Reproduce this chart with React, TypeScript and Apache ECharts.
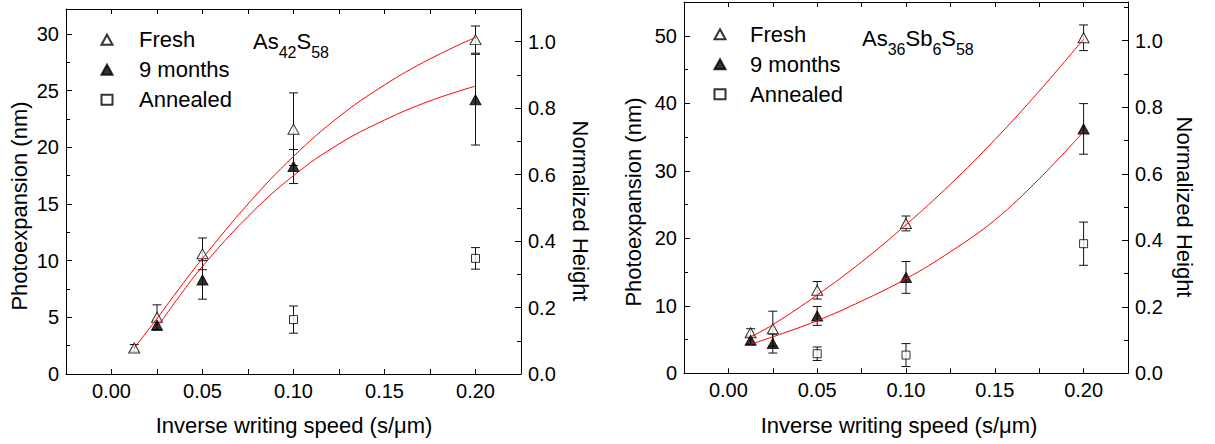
import React, { useEffect, useRef } from 'react';
import * as echarts from 'echarts';

const FONT = '"Liberation Sans", Arial, Helvetica, sans-serif';

// ---------- Left panel: As42S58 ----------
const leftFreshX = [0.0125, 0.025, 0.05, 0.1, 0.2];
const leftFresh = [2.3, 5.0, 10.6, 21.6, 29.5];
const leftFreshErr = [0.3, 1.1, 1.4, 3.2, 1.2];
const leftMonthsX = [0.025, 0.05, 0.1, 0.2];
const leftMonths = [4.3, 8.3, 18.3, 24.2];
const leftMonthsErr = [0.4, 1.7, 1.5, 4.0];
const leftAnnealedX = [0.1, 0.2];
const leftAnnealed = [4.8, 10.2];
const leftAnnealedErr = [1.2, 0.95];
const leftFreshFitX = [0.0125, 0.025, 0.0375, 0.05, 0.075, 0.1, 0.125, 0.15, 0.175, 0.2];
const leftFreshFit = [2.3, 4.9, 7.6, 10.2, 15.0, 19.2, 22.7, 25.5, 27.8, 29.7];
const leftMonthsFitX = [0.025, 0.0375, 0.05, 0.075, 0.1, 0.125, 0.15, 0.175, 0.2];
const leftMonthsFit = [4.1, 6.9, 9.5, 13.9, 17.5, 20.3, 22.4, 24.1, 25.4];

// ---------- Right panel: As36Sb6S58 ----------
const rightFreshX = [0.0125, 0.025, 0.05, 0.1, 0.2];
const rightFresh = [6.0, 6.6, 12.3, 22.2, 49.7];
const rightFreshErr = [0.6, 2.6, 1.3, 1.1, 1.9];
const rightMonthsX = [0.0125, 0.025, 0.05, 0.1, 0.2];
const rightMonths = [4.9, 4.4, 8.5, 14.2, 36.2];
const rightMonthsErr = [0.6, 1.4, 1.4, 2.35, 3.75];
const rightAnnealedX = [0.05, 0.1, 0.2];
const rightAnnealed = [2.9, 2.7, 19.2];
const rightAnnealedErr = [1.0, 1.7, 3.2];
const rightFitX = [0.0125, 0.025, 0.05, 0.075, 0.1, 0.125, 0.15, 0.175, 0.2];
const rightFreshFit = [5.4, 7.2, 11.6, 16.5, 22.0, 28.0, 34.6, 41.8, 49.5];
const rightMonthsFit = [4.3, 5.4, 7.8, 10.7, 14.0, 18.0, 22.7, 28.8, 35.8];

// ---------- Axes ----------
const xTickLabels = ['0.00', '0.05', '0.10', '0.15', '0.20'];
const leftYMax = 32.2;
const leftNormMax = 1.098;
const rightYMax = 55;
const rightNormMax = 1.1165;

const pairs = (xs: number[], ys: number[]) => xs.map((x, i) => [x, ys[i]]);
const bars = (xs: number[], ys: number[], es: number[]) =>
  xs.map((x, i) => [x, ys[i] - es[i], ys[i] + es[i]]);

const tickLine = { lineStyle: { color: '#000', width: 1 } };

function xAxisDef(gridIndex: number, position: 'top' | 'bottom') {
  return {
    type: 'value',
    gridIndex,
    position,
    min: -0.025,
    max: 0.225,
    interval: 0.025,
    axisLine: { show: true, onZero: false, ...tickLine },
    axisTick: { show: true, inside: true, length: 5, ...tickLine },
    splitLine: { show: false },
    axisLabel: {
      show: position === 'bottom',
      color: '#000',
      fontSize: 20,
      fontFamily: FONT,
      margin: 7,
      formatter: (v: number) => {
        const k = Math.round(v / 0.025);
        if (k < 0 || k % 2 !== 0 || k / 2 >= xTickLabels.length) return '';
        return xTickLabels[k / 2];
      },
    },
  };
}

function yAxisDef(gridIndex: number, position: 'left' | 'right', max: number, interval: number, decimals: number) {
  return {
    type: 'value',
    gridIndex,
    position,
    min: 0,
    max,
    interval,
    axisLine: { show: true, onZero: false, ...tickLine },
    axisTick: { show: true, inside: true, length: 6, ...tickLine },
    minorTick: { show: true, splitNumber: 2, length: 4, ...tickLine },
    splitLine: { show: false },
    minorSplitLine: { show: false },
    axisLabel: {
      color: '#000',
      fontSize: 20,
      fontFamily: FONT,
      margin: 7,
      formatter: (v: number) => {
        const k = Math.round(v / interval);
        if (Math.abs(k * interval - v) > interval * 1e-3) return '';
        return (k * interval).toFixed(decimals);
      },
    },
  };
}

const errorRender = (params: any, api: any) => {
  const x = api.value(0);
  const top = api.coord([x, api.value(2)]);
  const bot = api.coord([x, api.value(1)]);
  const w = 4.5;
  const style = { stroke: '#111', lineWidth: 1 };
  return {
    type: 'group',
    children: [
      { type: 'line', shape: { x1: top[0], y1: top[1], x2: bot[0], y2: bot[1] }, style },
      { type: 'line', shape: { x1: top[0] - w, y1: top[1], x2: top[0] + w, y2: top[1] }, style },
      { type: 'line', shape: { x1: bot[0] - w, y1: bot[1], x2: bot[0] + w, y2: bot[1] }, style },
    ],
  };
};

function errSeries(data: number[][], xi: number, yi: number) {
  return {
    type: 'custom',
    xAxisIndex: xi,
    yAxisIndex: yi,
    renderItem: errorRender,
    data,
    encode: { x: 0, y: [1, 2] },
    z: 2,
    silent: true,
  };
}

const freshStyle = { color: '#fff', borderColor: '#000', borderWidth: 1 };
const monthsStyle = { color: '#000', borderColor: '#000', borderWidth: 1 };

function scatter(name: string, data: number[][], xi: number, yi: number) {
  const isAnn = name === 'Annealed';
  return {
    type: 'scatter',
    name,
    xAxisIndex: xi,
    yAxisIndex: yi,
    data,
    symbol: isAnn ? 'rect' : 'triangle',
    symbolSize: isAnn ? 8 : [11, 10],
    itemStyle: name === '9 months' ? monthsStyle : freshStyle,
    z: 3,
  };
}

function fit(data: number[][], xi: number, yi: number) {
  return {
    type: 'line',
    xAxisIndex: xi,
    yAxisIndex: yi,
    data,
    smooth: 0.4,
    showSymbol: false,
    symbol: 'none',
    lineStyle: { color: '#ff0000', width: 1 },
    z: 4,
    silent: true,
  };
}

function legendDef(left: number, top: number, textPad: number) {
  return {
    orient: 'vertical',
    left,
    top,
    padding: 0,
    itemWidth: 11,
    itemHeight: 10,
    itemGap: 8,
    selectedMode: false,
    textStyle: { color: '#000', fontSize: 22, fontFamily: FONT, lineHeight: 20, padding: [0, 0, 0, textPad] },
    data: [
      { name: 'Fresh', icon: 'triangle' },
      { name: '9 months', icon: 'triangle' },
      { name: 'Annealed', icon: 'rect' },
    ],
  };
}

const titleStyle = { fill: '#000', fontSize: 22, fontFamily: FONT, align: 'center', verticalAlign: 'middle' };

const richLabel = {
  m: { fontSize: 22, fontFamily: FONT, fill: '#000', lineHeight: 22, verticalAlign: 'top' },
  s: { fontSize: 16, fontFamily: FONT, fill: '#000', lineHeight: 16, padding: [14, 0, 0, 0], verticalAlign: 'top' },
};

const option = {
  animation: false,
  backgroundColor: '#fff',
  grid: [
    { left: 66, top: 9, width: 455, height: 365 },
    { left: 684, top: 2, width: 444, height: 371.3 },
  ],
  xAxis: [xAxisDef(0, 'bottom'), xAxisDef(0, 'top'), xAxisDef(1, 'bottom'), xAxisDef(1, 'top')],
  yAxis: [
    yAxisDef(0, 'left', leftYMax, 5, 0),
    yAxisDef(0, 'right', leftNormMax, 0.2, 1),
    yAxisDef(1, 'left', rightYMax, 10, 0),
    yAxisDef(1, 'right', rightNormMax, 0.2, 1),
  ],
  legend: [legendDef(100.5, 28.7, 21.5), legendDef(713.5, 23.3, 19.5)],
  series: [
    errSeries(bars(leftFreshX, leftFresh, leftFreshErr), 0, 0),
    errSeries(bars(leftMonthsX, leftMonths, leftMonthsErr), 0, 0),
    errSeries(bars(leftAnnealedX, leftAnnealed, leftAnnealedErr), 0, 0),
    scatter('Fresh', pairs(leftFreshX, leftFresh), 0, 0),
    scatter('9 months', pairs(leftMonthsX, leftMonths), 0, 0),
    scatter('Annealed', pairs(leftAnnealedX, leftAnnealed), 0, 0),
    fit(pairs(leftFreshFitX, leftFreshFit), 0, 0),
    fit(pairs(leftMonthsFitX, leftMonthsFit), 0, 0),

    errSeries(bars(rightFreshX, rightFresh, rightFreshErr), 2, 2),
    errSeries(bars(rightMonthsX, rightMonths, rightMonthsErr), 2, 2),
    errSeries(bars(rightAnnealedX, rightAnnealed, rightAnnealedErr), 2, 2),
    scatter('Fresh', pairs(rightFreshX, rightFresh), 2, 2),
    scatter('9 months', pairs(rightMonthsX, rightMonths), 2, 2),
    scatter('Annealed', pairs(rightAnnealedX, rightAnnealed), 2, 2),
    fit(pairs(rightFitX, rightFreshFit), 2, 2),
    fit(pairs(rightFitX, rightMonthsFit), 2, 2),
  ],
  graphic: [
    { type: 'text', x: 19, y: 206, rotation: Math.PI / 2, style: { ...titleStyle, text: 'Photoexpansion (nm)' } },
    { type: 'text', x: 633, y: 202, rotation: Math.PI / 2, style: { ...titleStyle, text: 'Photoexpansion (nm)' } },
    { type: 'text', x: 580, y: 211, rotation: -Math.PI / 2, style: { ...titleStyle, text: 'Normalized Height' } },
    { type: 'text', x: 1184, y: 207, rotation: -Math.PI / 2, style: { ...titleStyle, text: 'Normalized Height' } },
    { type: 'text', x: 294, y: 425, style: { ...titleStyle, text: 'Inverse writing speed (s/μm)' } },
    { type: 'text', x: 899, y: 425, style: { ...titleStyle, text: 'Inverse writing speed (s/μm)' } },
    { type: 'text', x: 253, y: 30, style: { text: '{m|As}{s|42}{m|S}{s|58}', rich: richLabel } },
    { type: 'text', x: 862, y: 27, style: { text: '{m|As}{s|36}{m|Sb}{s|6}{m|S}{s|58}', rich: richLabel } },
  ],
};

export default function App() {
  const ref = useRef<HTMLDivElement>(null);
  useEffect(() => {
    const chart = echarts.init(ref.current as HTMLDivElement, null, { renderer: 'svg' });
    chart.setOption(option as any);
    return () => chart.dispose();
  }, []);
  return (
    <div
      ref={ref}
      style={{ position: 'fixed', left: 0, top: 0, width: 1215, height: 444, background: '#fff' }}
    />
  );
}
